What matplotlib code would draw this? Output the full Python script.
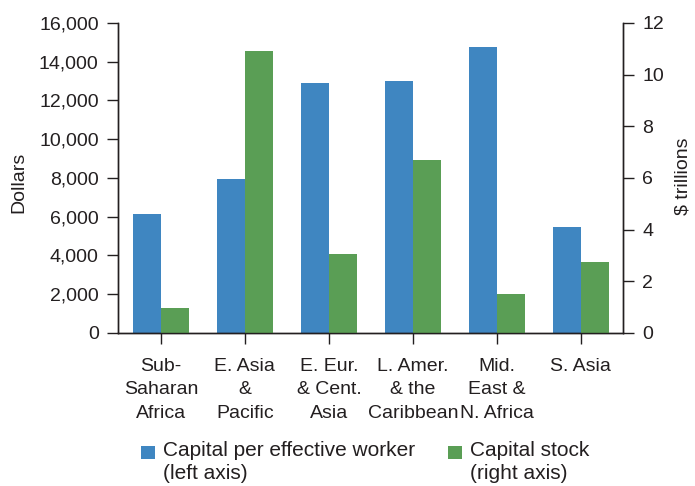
import matplotlib.pyplot as plt
import numpy as np
from matplotlib.patches import Rectangle

# Datos
regions = ["Sub-\nSaharan\nAfrica", "E. Asia\n&\nPacific", "E. Eur.\n& Cent.\nAsia",
           "L. Amer.\n& the\nCaribbean", "Mid.\nEast &\nN. Africa", "S. Asia"]
capital_per_worker = [6150, 7950, 12900, 13000, 14750, 5480]  # dólares, eje izquierdo
capital_stock = [0.97, 10.92, 3.06, 6.70, 1.51, 2.75]          # billones de $, eje derecho
legend_labels = ["Capital per effective worker\n(left axis)", "Capital stock\n(right axis)"]

blue = "#3f86c1"
green = "#5a9e55"
ink = "#231f20"

plt.rcParams['font.family'] = ['Liberation Sans', 'DejaVu Sans']
plt.rcParams['font.size'] = 14
plt.rcParams['text.color'] = ink
plt.rcParams['axes.labelcolor'] = ink
plt.rcParams['xtick.color'] = ink
plt.rcParams['ytick.color'] = ink

fig = plt.figure(figsize=(6.95, 4.86), dpi=100)
ax = fig.add_axes([0.170, 0.315, 0.726, 0.638])
ax2 = ax.twinx()

x = np.arange(len(regions))
w = 0.333
ax.bar(x - w / 2, capital_per_worker, width=w, color=blue, linewidth=0)
ax2.bar(x + w / 2, capital_stock, width=w, color=green, linewidth=0)

ax.set_xlim(-0.51, 5.5)
ax.set_ylim(0, 16000)
ax2.set_ylim(0, 12)
ax.set_yticks(range(0, 16001, 2000))
ax.set_yticklabels([f"{v:,}" for v in range(0, 16001, 2000)])
ax2.set_yticks(range(0, 13, 2))
ax.set_xticks(x)
ax.set_xticklabels(regions, linespacing=1.5)

for a in (ax, ax2):
    a.spines['top'].set_visible(False)
    for s in ('left', 'right', 'bottom'):
        a.spines[s].set_color(ink)
        a.spines[s].set_linewidth(1.0)
    a.tick_params(length=8, width=1.0, pad=6)
ax.tick_params(axis='x', pad=10)

ax.set_ylabel("Dollars")
ax.yaxis.set_label_coords(-0.196, 0.487)
ax.yaxis.label.set_verticalalignment('center')
ax2.set_ylabel("$ trillions")
ax2.yaxis.set_label_coords(1.119, 0.506)
ax2.yaxis.label.set_verticalalignment('center')

# Leyenda dibujada a mano debajo del gráfico
W, H = 695, 486
for (px, color, label) in [(141, blue, legend_labels[0]), (448, green, legend_labels[1])]:
    fig.add_artist(Rectangle((px / W, 1 - 459 / H), 14 / W, 13 / H,
                             transform=fig.transFigure, color=color, lw=0))
    fig.text((px + 22) / W, 1 - 441 / H, label, va='top', ha='left',
             fontsize=15, linespacing=1.25)

fig.savefig("out.png", dpi=100)
